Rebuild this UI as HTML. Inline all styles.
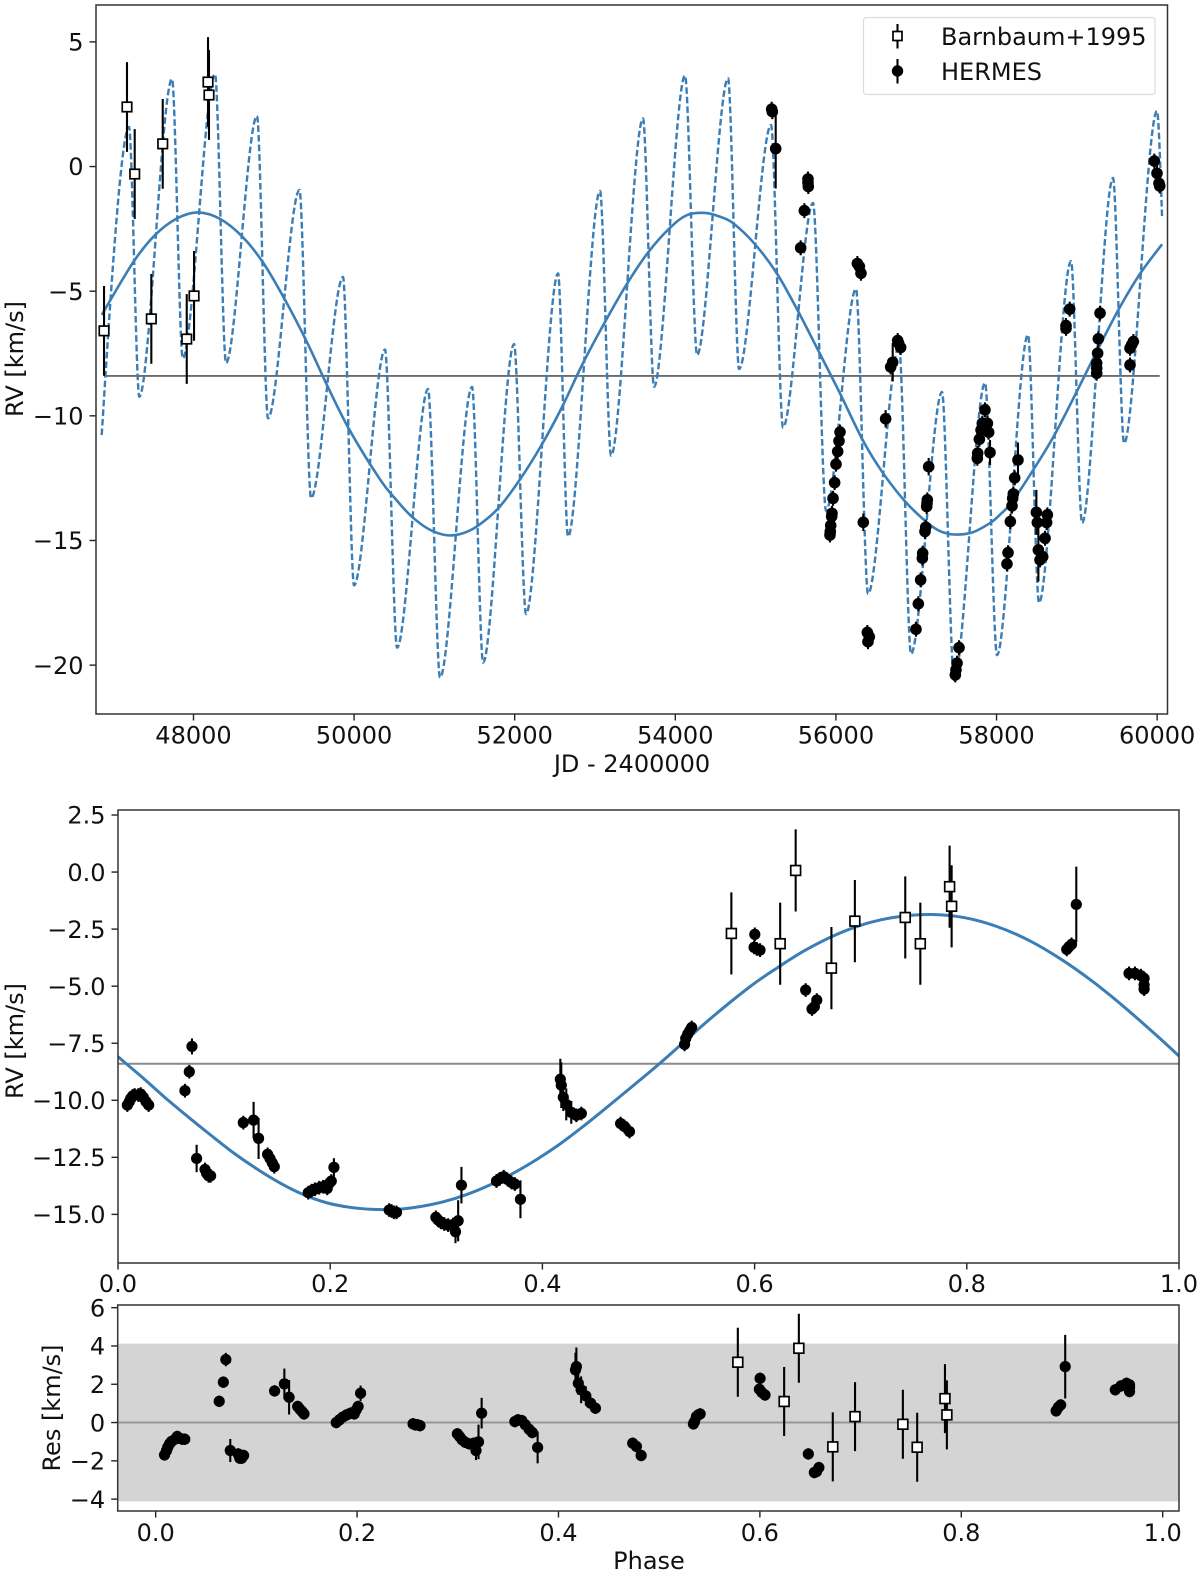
<!DOCTYPE html>
<html lang="en">
<head>
<meta charset="utf-8">
<title>RV time series and phase-folded orbit</title>
<style>
html,body{margin:0;padding:0;background:#fff;}
svg{display:block;}
text{font-family:"DejaVu Sans","Liberation Sans",sans-serif;font-size:24px;fill:#111;}
</style>
</head>
<body>
<svg id="chart" xmlns="http://www.w3.org/2000/svg" width="1200" height="1575" viewBox="0 0 1200 1575">
  <rect x="0" y="0" width="1200" height="1575" fill="#fff"/>
  <g id="p1"></g>
  <g id="p2"></g>
  <g id="p3"></g>
  <text x="632" y="772" text-anchor="middle">JD - 2400000</text>
  <text transform="translate(23,359) rotate(-90)" text-anchor="middle">RV [km/s]</text>
  <text transform="translate(23,1041) rotate(-90)" text-anchor="middle">RV [km/s]</text>
  <text transform="translate(60,1408) rotate(-90)" text-anchor="middle">Res [km/s]</text>
  <text x="649" y="1569" text-anchor="middle">Phase</text>
  <g id="legend">
    <rect x="863.5" y="17.5" width="291.5" height="77" rx="3" fill="#fff" fill-opacity="0.8" stroke="#dcdcdc" stroke-width="1.2"/>
    <g>
      <line x1="897.5" y1="24" x2="897.5" y2="48.5" stroke="#000" stroke-width="2.1"/>
      <rect x="893" y="31.5" width="9" height="9" fill="#fff" stroke="#000" stroke-width="1.7"/>
      <text x="941" y="45">Barnbaum+1995</text>
    </g>
    <g>
      <line x1="897.5" y1="59" x2="897.5" y2="83.5" stroke="#000" stroke-width="2.1"/>
      <circle cx="897.5" cy="71" r="5.7" fill="#000"/>
      <text x="941" y="80">HERMES</text>
    </g>
  </g>
</svg>
<script>
// ---- Top panel: time series ----
const jdBarnbaum = [46886,47172,47268,47475,47617,47916,48007,48181,48193];
const rvBarnbaum = [-6.59,2.39,-0.30,-6.11,0.91,-6.92,-5.19,3.39,2.87];
const errBarnbaum = [1.8,1.8,1.8,1.8,1.8,1.8,1.8,1.8,1.8];

const jdHermes = [55200,55208,55250,55561,55607,55652,55652,55656,55926,55930,55935,55947,55951,55964,55984,56001,56022,56038,56051,56267,56292,56312,56341,56391,56399,56416,56619,56682,56707,56769,56781,56806,56997,57026,57055,57076,57080,57109,57118,57130,57134,57138,57155,57487,57495,57508,57533,57761,57765,57786,57807,57823,57856,57886,57902,57919,58130,58143,58172,58193,58201,58209,58226,58267,58496,58508,58521,58541,58575,58604,58624,58633,58865,58865,58911,59247,59247,59247,59259,59268,59289,59662,59662,59683,59704,59965,59998,60023,60032];
const rvHermes = [2.30,2.20,0.72,-3.26,-1.77,-0.50,-0.64,-0.80,-14.78,-14.64,-14.40,-14.04,-13.91,-13.31,-12.68,-11.94,-11.43,-11.01,-10.65,-3.89,-4.01,-4.28,-14.27,-18.69,-19.06,-18.86,-10.12,-8.04,-7.85,-6.98,-7.09,-7.26,-18.56,-17.54,-16.58,-15.71,-15.51,-14.64,-14.47,-13.64,-13.51,-13.37,-12.04,-20.39,-20.19,-19.92,-19.30,-11.70,-11.50,-10.94,-10.57,-10.30,-9.76,-10.30,-10.66,-11.47,-15.94,-15.49,-14.24,-13.61,-13.31,-13.13,-12.49,-11.77,-13.87,-14.28,-15.38,-15.78,-15.65,-14.91,-14.28,-13.97,-6.38,-6.49,-5.72,-8.29,-8.09,-7.89,-7.49,-6.91,-5.88,-7.96,-7.29,-7.15,-7.02,0.22,-0.27,-0.67,-0.78];
const errHermes = [0.3,0.3,1.6,0.3,0.3,0.3,0.3,0.3,0.3,0.3,0.3,0.3,0.3,0.3,0.3,0.3,0.3,0.3,0.3,0.3,0.3,0.3,0.35,0.3,0.3,0.3,0.35,0.3,0.77,0.3,0.3,0.3,0.3,0.3,0.3,0.3,0.3,0.3,0.3,0.3,0.3,0.3,0.35,0.3,0.3,0.3,0.3,0.3,0.3,0.3,0.3,0.3,0.3,0.3,0.3,0.5,0.3,0.3,0.3,0.3,0.3,0.3,0.3,0.7,0.9,0.3,1.27,0.3,0.3,0.3,0.3,0.3,0.3,0.3,0.3,0.3,0.3,0.3,0.3,0.3,0.3,0.3,0.3,0.3,0.3,0.3,0.3,0.3,0.3];

// Orbit (solid) curve samples
const orbitJd = [46857,47247,47521,47795,48056,48330,48604,48866,49140,49414,49675,49949,50323,50519,50721,50944,51157,51344,51531,51792,52066,52340,52589,52851,53125,53399,53660,53934,54144,54370,54544,54719,54993,55267,55528,55802,56051,56338,56587,56861,57135,57294,57471,57694,57919,58044,58193,58455,58716,59003,59274,59538,59787,60061];
const orbitRv = [-5.95,-3.85,-2.75,-2.08,-1.84,-2.10,-2.80,-3.85,-5.35,-7.05,-8.85,-10.6,-12.55,-13.35,-14.05,-14.57,-14.79,-14.72,-14.43,-13.72,-12.55,-11.14,-9.65,-7.88,-6.23,-4.70,-3.45,-2.46,-1.95,-1.86,-2.0,-2.27,-3.12,-4.30,-5.80,-7.52,-9.10,-11.0,-12.30,-13.43,-14.28,-14.62,-14.76,-14.68,-14.3,-13.96,-13.45,-12.18,-10.80,-9.0,-7.25,-5.63,-4.30,-3.12];

// Full model (dashed): start, alternating maxima/minima, end
const modelJd = [46857,47197,47325,47733,47866,48268,48405,48791,48928,49320,49464,49862,49999,50385,50535,50921,51070,51469,51606,51992,52141,52540,52664,53063,53200,53598,53735,54121,54271,54657,54794,55192,55341,55715,55877,56250,56400,56786,56935,57321,57471,57857,58006,58392,58529,58928,59065,59451,59588,59999,60061];
const modelRv = [-10.77,1.59,-9.23,3.51,-7.69,3.71,-7.88,2.03,-10.1,-0.94,-13.3,-4.43,-16.8,-7.34,-19.3,-8.92,-20.5,-8.84,-19.9,-7.12,-17.95,-4.29,-14.84,-0.98,-11.6,1.93,-8.84,3.65,-7.56,3.54,-8.12,1.67,-10.47,-1.46,-13.8,-4.91,-17.14,-7.2,-19.55,-9.04,-20.6,-8.68,-19.6,-6.75,-17.5,-3.79,-14.3,-0.46,-11.1,2.23,-2.0];

const systemicRv = -8.4;

// ---- Phase panels ----
const phaseBarnbaum = [0.5781,0.6241,0.6387,0.6724,0.6945,0.7420,0.7562,0.7838,0.7857];
const phaseRvBarnbaum = [-2.69,-3.14,0.07,-4.21,-2.15,-1.99,-3.14,-0.64,-1.50];
const resBarnbaum = [3.15,1.10,3.88,-1.27,0.31,-0.09,-1.29,1.25,0.40];
const phaseErrBarnbaum = [1.8,1.8,1.8,1.8,1.8,1.8,1.8,1.8,1.8];

const phaseHermes = [0.0088,0.0107,0.0120,0.0138,0.0157,0.0192,0.0214,0.0239,0.0264,0.0289,0.0631,0.0672,0.0697,0.0741,0.0820,0.0835,0.0854,0.0873,0.1181,0.1278,0.1325,0.1410,0.1432,0.1454,0.1473,0.1793,0.1825,0.1856,0.1897,0.1934,0.1972,0.1991,0.2010,0.2035,0.2556,0.2578,0.2600,0.2625,0.2996,0.3018,0.3043,0.3074,0.3112,0.3159,0.3181,0.3206,0.3237,0.3567,0.3598,0.3636,0.3671,0.3708,0.3740,0.3793,0.4169,0.4178,0.4197,0.4225,0.4272,0.4320,0.4367,0.4737,0.4774,0.4821,0.5340,0.5351,0.5370,0.5389,0.5407,0.5995,0.6002,0.6021,0.6051,0.6481,0.6541,0.6563,0.6586,0.8942,0.8964,0.8987,0.9032,0.9529,0.9585,0.9641,0.9671,0.9671,0.9671];
const phaseRvHermes = [-10.21,-10.06,-9.92,-9.81,-9.77,-9.77,-9.73,-9.87,-10.06,-10.21,-9.58,-8.75,-7.64,-12.55,-13.03,-13.2,-13.31,-13.31,-10.98,-10.87,-11.67,-12.37,-12.55,-12.74,-12.91,-14.05,-13.96,-13.9,-13.83,-13.79,-13.86,-13.64,-13.54,-12.94,-14.81,-14.85,-14.91,-14.91,-15.13,-15.25,-15.35,-15.42,-15.47,-15.44,-15.76,-15.28,-13.72,-13.54,-13.44,-13.35,-13.47,-13.6,-13.67,-14.34,-9.08,-9.34,-9.87,-10.18,-10.53,-10.66,-10.58,-11.02,-11.15,-11.37,-7.55,-7.29,-7.10,-6.95,-6.81,-3.30,-2.73,-3.37,-3.42,-5.17,-6.0,-5.9,-5.61,-3.39,-3.27,-3.17,-1.42,-4.44,-4.44,-4.54,-4.66,-4.95,-5.13];
const resHermes = [-1.69,-1.48,-1.29,-1.11,-0.99,-0.87,-0.73,-0.82,-0.87,-0.87,1.11,2.11,3.29,-1.46,-1.64,-1.86,-1.86,-1.72,1.65,2.02,1.32,0.84,0.70,0.57,0.45,0,0.14,0.28,0.40,0.49,0.45,0.66,0.84,1.53,-0.07,-0.12,-0.12,-0.16,-0.59,-0.73,-0.9,-1.03,-1.11,-1.08,-1.46,-1.01,0.49,0.05,0.14,0.10,-0.12,-0.35,-0.52,-1.3,2.75,2.92,2.05,1.71,1.39,1.01,0.75,-1.08,-1.25,-1.72,-0.07,0.05,0.31,0.40,0.45,1.74,2.31,1.57,1.44,-1.64,-2.61,-2.56,-2.35,0.61,0.80,0.92,2.92,1.71,1.91,2.05,1.84,1.62,1.97];
const phaseErrHermes = [0.3,0.3,0.3,0.3,0.3,0.3,0.3,0.3,0.3,0.3,0.3,0.3,0.35,0.6,0.3,0.3,0.3,0.3,0.3,0.8,0.9,0.3,0.3,0.3,0.3,0.3,0.3,0.3,0.3,0.3,0.3,0.3,0.3,0.4,0.3,0.3,0.3,0.3,0.3,0.3,0.3,0.3,0.3,0.3,0.5,0.9,0.8,0.3,0.3,0.3,0.3,0.3,0.3,0.83,0.9,1.0,0.6,0.7,0.5,0.3,0.3,0.3,0.3,0.3,0.3,0.3,0.3,0.3,0.3,0.3,0.3,0.3,0.3,0.3,0.3,0.3,0.3,0.3,0.3,0.3,1.66,0.3,0.3,0.3,0.3,0.3,0.3];

const orbitPhase = [0,0.024,0.046,0.068,0.0867,0.1087,0.1306,0.1526,0.1746,0.1966,0.2185,0.2405,0.2625,0.2845,0.3065,0.3285,0.3504,0.3724,0.3944,0.4164,0.4378,0.4592,0.4845,0.5097,0.535,0.5602,0.5957,0.6219,0.648,0.678,0.708,0.738,0.768,0.798,0.828,0.858,0.8875,0.917,0.947,0.977,1.0];
const orbitPhaseRv = [-8.09,-9.04,-9.95,-10.8,-11.5,-12.3,-13.0,-13.62,-14.13,-14.49,-14.69,-14.78,-14.78,-14.66,-14.45,-14.13,-13.71,-13.2,-12.6,-11.92,-11.17,-10.37,-9.4,-8.42,-7.38,-6.35,-5.02,-4.18,-3.42,-2.72,-2.22,-1.94,-1.86,-2.0,-2.38,-2.98,-3.78,-4.74,-5.86,-7.08,-8.06];

const residualBand = [-4.12,4.12];

// ---- Tick labels ----
const ticksTimeX = [48000,50000,52000,54000,56000,58000,60000];
const ticksTimeY = [5,0,-5,-10,-15,-20];
const ticksPhaseX = ["0.0","0.2","0.4","0.6","0.8","1.0"];
const ticksPhaseY = ["2.5","0.0","-2.5","-5.0","-7.5","-10.0","-12.5","-15.0"];
const ticksResX = ["0.0","0.2","0.4","0.6","0.8","1.0"];
const ticksResY = ["6","4","2","0","-2","-4"];

// ---- Axis functions ----
function scale(d0,d1,r0,r1){ return function(v){ return r0+(v-d0)*(r1-r0)/(d1-d0); }; }
const box1 = {l:96,r:1167.5,t:5,b:714};
const box2 = {l:118,r:1179,t:810,b:1263};
const box3 = {l:117.7,r:1179,t:1305,b:1511};
const x1 = scale(46786,60129,box1.l,box1.r);
const y1 = scale(6.48,-21.96,box1.t,box1.b);
const x2 = scale(0,1,box2.l,box2.r);
const y2 = scale(2.719,-17.13,box2.t,box2.b);
const x3 = scale(-0.0377,1.0162,box3.l,box3.r);
const y3 = scale(6.14,-4.62,box3.t,box3.b);

const NS = 'http://www.w3.org/2000/svg';
function mk(tag,parent,attrs){
  const el = document.createElementNS(NS,tag);
  for(const k in attrs){ el.setAttribute(k,attrs[k]); }
  parent.appendChild(el);
  return el;
}
function minus(s){ return String(s).replace('-','\u2212'); }

// Smooth open curve through samples
function catmull(xs,ys){
  let d = 'M'+xs[0].toFixed(2)+' '+ys[0].toFixed(2);
  for(let i=0;i<xs.length-1;i++){
    const a=Math.max(i-1,0), b=Math.min(i+2,xs.length-1);
    const c1x=xs[i]+(xs[i+1]-xs[a])/6, c1y=ys[i]+(ys[i+1]-ys[a])/6;
    const c2x=xs[i+1]-(xs[b]-xs[i])/6, c2y=ys[i+1]-(ys[b]-ys[i])/6;
    d+=' C'+c1x.toFixed(2)+' '+c1y.toFixed(2)+' '+c2x.toFixed(2)+' '+c2y.toFixed(2)+' '+xs[i+1].toFixed(2)+' '+ys[i+1].toFixed(2);
  }
  return d;
}
// Curve through extrema: flat tangents at each maximum/minimum
function extremaPath(xs,ys,k){
  let d = 'M'+xs[0].toFixed(2)+' '+ys[0].toFixed(2);
  const n = xs.length-1;
  for(let i=0;i<n;i++){
    const dx=xs[i+1]-xs[i];
    const c1x = i===0 ? xs[i]+dx*0.25 : xs[i]+dx*k;
    const c1y = i===0 ? ys[i]+(ys[i+1]-ys[i])*0.35 : ys[i];
    const c2x = i===n-1 ? xs[i+1]-dx*0.25 : xs[i+1]-dx*k;
    const c2y = i===n-1 ? ys[i+1]-(ys[i+1]-ys[i])*0.35 : ys[i+1];
    d+=' C'+c1x.toFixed(2)+' '+c1y.toFixed(2)+' '+c2x.toFixed(2)+' '+c2y.toFixed(2)+' '+xs[i+1].toFixed(2)+' '+ys[i+1].toFixed(2);
  }
  return d;
}

function drawAxes(g,box,xticks,xf,yticks,yf,labelGap){
  xticks.forEach(function(t){
    const px = xf(Number(t));
    const tick = mk('line',g,{x1:px,x2:px,y1:box.b,y2:box.b+6.5,stroke:'#222','stroke-width':1.4});
    
    
    const lab = mk('text',g,{x:px,y:box.b+labelGap,'text-anchor':'middle'});
    
    
    lab.textContent = minus(t);
  });
  yticks.forEach(function(t){
    const py = yf(Number(t));
    const tick = mk('line',g,{x1:box.l-6.5,x2:box.l,y1:py,y2:py,stroke:'#222','stroke-width':1.4});
    
    
    const lab = mk('text',g,{x:box.l-12.5,y:py+8.7,'text-anchor':'end'});
    
    
    lab.textContent = minus(t);
  });
}
function drawFrame(g,box){
  const f = mk('rect',g,{x:box.l,y:box.t,width:box.r-box.l,height:box.b-box.t,fill:'none',stroke:'#333','stroke-width':1.5});
  
  
}
function drawErr(g,xs,ys,errs,xf,yf,w){
  xs.forEach(function(x,i){
    const l = mk('line',g,{x1:xf(x),x2:xf(x),y1:yf(ys[i]-errs[i]),y2:yf(ys[i]+errs[i]),stroke:'#000','stroke-width':w});
    
    
  });
}
function drawSquares(g,xs,ys,xf,yf,size){
  xs.forEach(function(x,i){
    const r = mk('rect',g,{x:xf(x)-size/2,y:yf(ys[i])-size/2,width:size,height:size,fill:'#fff',stroke:'#000','stroke-width':1.7});
    
    
  });
}
function drawDots(g,xs,ys,xf,yf,rad){
  xs.forEach(function(x,i){
    const c = mk('circle',g,{cx:xf(x),cy:yf(ys[i]),r:rad,fill:'#000'});
    
    
  });
}

const BLUE = '#3b7db5';

// ---- Panel 1 ----
(function(){
  const g = document.getElementById('p1');
  const allJd = jdBarnbaum.concat(jdHermes);
  const hl = mk('line',g,{x1:x1(Math.min.apply(null,allJd)),x2:x1(Math.max.apply(null,allJd)),y1:y1(systemicRv),y2:y1(systemicRv),stroke:'#6c6c6c','stroke-width':1.8});
  
  
  const dashed = mk('path',g,{d:extremaPath(modelJd.map(x1),modelRv.map(y1),0.3),fill:'none',stroke:BLUE,'stroke-width':2.4,'stroke-dasharray':'6.6 3'});
  
  
  const solid = mk('path',g,{d:catmull(orbitJd.map(x1),orbitRv.map(y1)),fill:'none',stroke:BLUE,'stroke-width':2.6});
  
  
  drawErr(g,jdBarnbaum,rvBarnbaum,errBarnbaum,x1,y1,2.1);
  drawErr(g,jdHermes,rvHermes,errHermes,x1,y1,2.1);
  drawSquares(g,jdBarnbaum,rvBarnbaum,x1,y1,9.5);
  drawDots(g,jdHermes,rvHermes,x1,y1,5.8);
  drawAxes(g,box1,ticksTimeX,x1,ticksTimeY,y1,29.5);
  drawFrame(g,box1);
})();

// ---- Panel 2 ----
(function(){
  const g = document.getElementById('p2');
  const hl = mk('line',g,{x1:box2.l,x2:box2.r,y1:y2(systemicRv),y2:y2(systemicRv),stroke:'#8a8a8a','stroke-width':2});
  
  
  const solid = mk('path',g,{d:catmull(orbitPhase.map(x2),orbitPhaseRv.map(y2)),fill:'none',stroke:BLUE,'stroke-width':3});
  
  
  drawErr(g,phaseBarnbaum,phaseRvBarnbaum,phaseErrBarnbaum,x2,y2,2.1);
  drawErr(g,phaseHermes,phaseRvHermes,phaseErrHermes,x2,y2,2.1);
  drawSquares(g,phaseBarnbaum,phaseRvBarnbaum,x2,y2,9.8);
  drawDots(g,phaseHermes,phaseRvHermes,x2,y2,5.6);
  drawAxes(g,box2,ticksPhaseX,x2,ticksPhaseY,y2,29);
  drawFrame(g,box2);
})();

// ---- Panel 3 ----
(function(){
  const g = document.getElementById('p3');
  const band = mk('rect',g,{x:box3.l,y:y3(residualBand[1]),width:box3.r-box3.l,height:y3(residualBand[0])-y3(residualBand[1]),fill:'#d4d4d4'});
  
  
  const zero = mk('line',g,{x1:box3.l,x2:box3.r,y1:y3(0),y2:y3(0),stroke:'#979797','stroke-width':2});
  
  
  drawErr(g,phaseBarnbaum,resBarnbaum,phaseErrBarnbaum,x3,y3,2.1);
  drawErr(g,phaseHermes,resHermes,phaseErrHermes,x3,y3,2.1);
  drawSquares(g,phaseBarnbaum,resBarnbaum,x3,y3,9.8);
  drawDots(g,phaseHermes,resHermes,x3,y3,5.6);
  drawAxes(g,box3,ticksResX,x3,ticksResY,y3,30);
  drawFrame(g,box3);
})();
</script>
</body>
</html>
